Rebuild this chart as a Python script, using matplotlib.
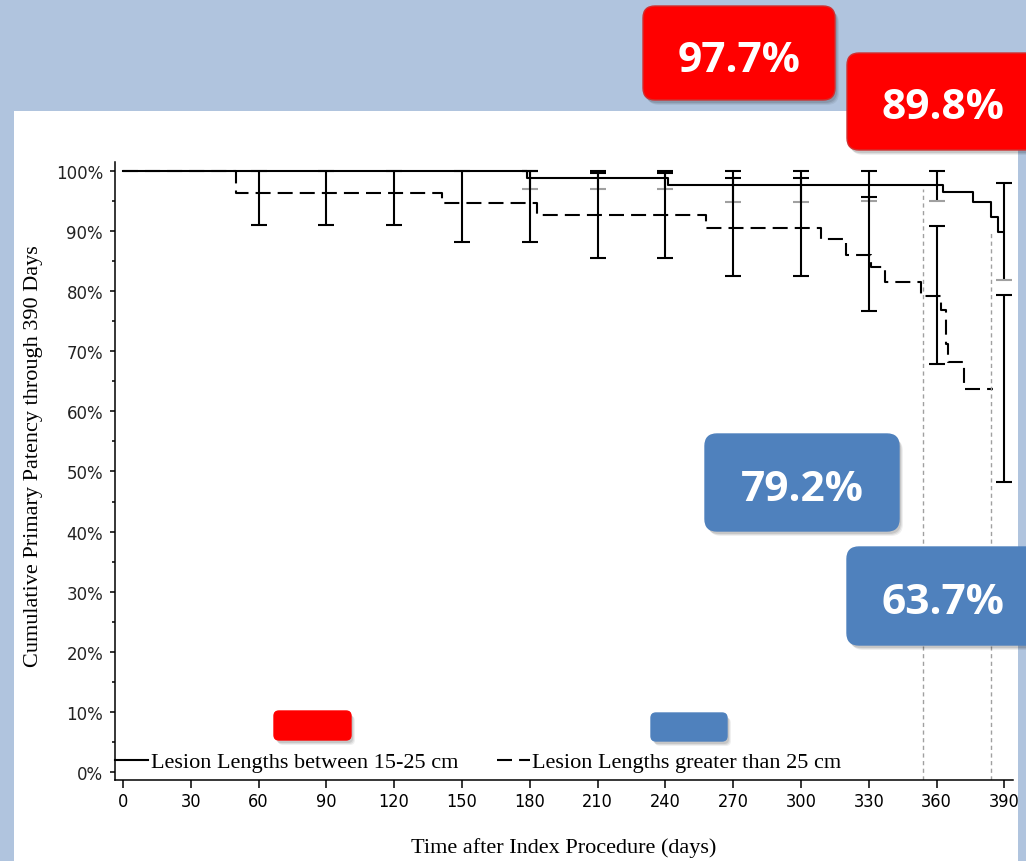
import matplotlib.pyplot as plt
from matplotlib.patches import FancyBboxPatch, Rectangle
from matplotlib.ticker import MultipleLocator, FuncFormatter

# Kaplan-Meier step curves: day of each event and patency (%) after it
short_days = [0, 179, 241, 363, 376, 384, 387, 389]
short_pct = [100, 98.9, 97.7, 96.5, 94.8, 92.3, 89.8, 89.8]
long_days = [0, 50, 141, 183, 258, 309, 320, 331, 337, 353, 362, 364, 365, 372, 385]
long_pct = [100, 96.3, 94.7, 92.7, 90.5, 88.7, 86.1, 84.0, 81.6, 79.2, 76.9, 71.2, 68.3, 63.7, 63.7]

# confidence limits every 30 days
short_ci_days = [180, 210, 240, 270, 300, 330, 360, 390]
short_ci_lo = [97.0, 97.0, 97.0, 94.9, 94.9, 95.0, 95.0, 81.9]
short_ci_hi = [100, 100, 100, 100, 100, 100, 100, 98.0]
long_ci_days = [60, 90, 120, 150, 180, 210, 240, 270, 300, 330, 360, 390]
long_ci_lo = [91.1, 91.1, 91.1, 88.2, 88.2, 85.6, 85.6, 82.5, 82.5, 76.7, 67.9, 48.2]
long_ci_hi = [100, 100, 100, 100, 100, 99.7, 99.7, 98.8, 98.8, 95.7, 90.8, 79.4]

# gray dashed reference lines
ref_days = [354, 384]
ref_top = [97.0, 90.1]

labels = ['Lesion Lengths between 15-25 cm', 'Lesion Lengths greater than 25 cm']
x_ticks = list(range(0, 391, 30))
red_values = [97.7, 89.8]
blue_values = [79.2, 63.7]

RED = '#FF0000'
BLUE = '#4F81BD'
SERIF = ['Liberation Serif', 'DejaVu Serif']

fig = plt.figure(figsize=(10.26, 8.62), dpi=100, facecolor='#B0C4DE')

# white sheet behind the chart
bg = fig.add_axes([0, 0, 1, 1], zorder=0)
bg.set_xlim(0, 1026)
bg.set_ylim(862, 0)
bg.axis('off')
bg.add_patch(Rectangle((14, 112), 1004, 760, facecolor='white', edgecolor='none'))

ax = fig.add_axes([0.1121, 0.0940, 0.8752, 0.7169], zorder=1)
ax.patch.set_alpha(0)

h1, = ax.step(short_days, short_pct, where='post', color='black', lw=1.5, label=labels[0])
h2, = ax.step(long_days, long_pct, where='post', color='black', lw=1.5,
              dashes=(7.2, 3.4), label=labels[1])

ax.vlines(ref_days, -1.33, ref_top, color='#A0A0A0', lw=1.0, linestyles=(0, (3, 2.5)))


def ci_bars(days, lo, hi, lo_color):
    ax.vlines(days, lo, hi, color='black', lw=1.5)
    ax.plot(days, hi, ls='none', marker='_', ms=11, mew=1.5, color='black')
    ax.plot(days, lo, ls='none', marker='_', ms=11, mew=1.5, color=lo_color)


ci_bars(short_ci_days, short_ci_lo, short_ci_hi, '#A0A0A0')
ci_bars(long_ci_days, long_ci_lo, long_ci_hi, 'black')

ax.set_xlim(-3.5, 393.8)
ax.set_ylim(-1.33, 101.5)
for s in ['top', 'right']:
    ax.spines[s].set_visible(False)
for s in ['left', 'bottom']:
    ax.spines[s].set_linewidth(1.1)

ax.set_xticks(x_ticks)
ax.yaxis.set_major_locator(MultipleLocator(10))
ax.yaxis.set_minor_locator(MultipleLocator(5))
ax.yaxis.set_major_formatter(FuncFormatter(lambda v, p: '{:.0f}%'.format(v)))
ax.tick_params(axis='x', length=5.8, width=1.1, pad=3)
ax.tick_params(axis='y', which='major', length=3.6, width=1.1, pad=5, labelsize=12, labelcolor='#222222')
ax.tick_params(axis='y', which='minor', length=2.2, width=1.1)
plt.setp(ax.get_xticklabels(), family=['DejaVu Sans'], fontstretch='condensed', fontsize=13)

ax.set_xlabel('Time after Index Procedure (days)', family=SERIF, fontsize=16)
ax.xaxis.set_label_coords(0.5, -0.092)
ax.set_ylabel('Cumulative Primary Patency through 390 Days', family=SERIF, fontsize=16)
ax.yaxis.set_label_coords(-0.080, 0.526)

ax.legend(handles=[h1, h2], loc='center left', bbox_to_anchor=(0.0, 0.029), ncol=2,
          frameon=False, prop={'family': SERIF, 'size': 16}, handlelength=1.5,
          handletextpad=0.1, columnspacing=1.75, borderpad=0, borderaxespad=0)

# callout boxes on top of everything, in pixel units
top = fig.add_axes([0, 0, 1, 1], zorder=2)
top.set_xlim(0, 1026)
top.set_ylim(862, 0)
top.axis('off')


def callout(x, y, w, h, color, edge, r=12, text=None, baseline=None):
    style = 'round,pad=0,rounding_size={}'.format(r)
    for k, a in [(5, 0.06), (4, 0.08), (3, 0.10)]:
        top.add_patch(FancyBboxPatch((x + k - 1, y + k), w, h, boxstyle=style,
                                     fc='black', ec='none', alpha=a))
    top.add_patch(FancyBboxPatch((x, y), w, h, boxstyle=style, fc=color, ec=edge, lw=1))
    if text is not None:
        top.text(x + w / 2, baseline, text, color='white', fontsize=30.5, fontweight='bold',
                 family=['Open Sans', 'DejaVu Sans'], ha='center', va='baseline')


callout(643, 7, 192, 94, RED, '#D03030', text='{:.1f}%'.format(red_values[0]), baseline=72)
callout(847, 54, 192, 97, RED, '#D03030', text='{:.1f}%'.format(red_values[1]), baseline=119)
callout(705, 435, 194, 97, BLUE, BLUE, text='{:.1f}%'.format(blue_values[0]), baseline=501)
callout(847, 548, 192, 98, BLUE, BLUE, text='{:.1f}%'.format(blue_values[1]), baseline=614)
callout(274, 712, 77, 29, RED, RED, r=5)
callout(651, 714, 76, 28, BLUE, BLUE, r=5)

fig.savefig('out.png', dpi=100, facecolor=fig.get_facecolor())
